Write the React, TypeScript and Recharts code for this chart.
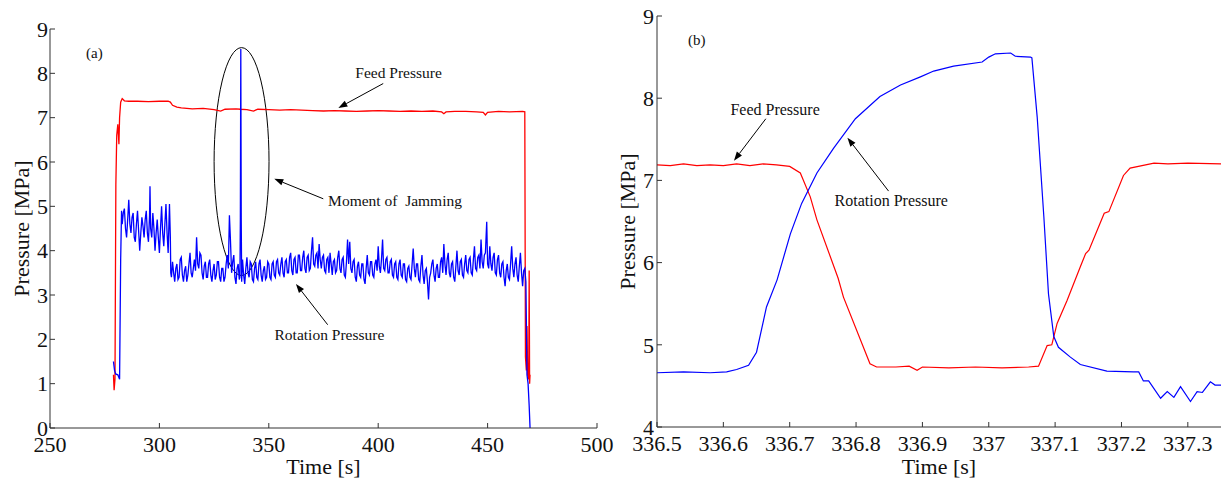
import { LineChart, Line, XAxis, YAxis, ReferenceLine, ReferenceDot, ReferenceArea } from "recharts";

const FONT = '"Liberation Serif", "Times New Roman", serif';
const RED = "#ff0000";
const BLUE = "#0000ff";
const AXIS = "#333333";
const INK = "#111111";

// (a) whole run, [time s, pressure MPa]
const feedA: [number, number][] = [
  [279, 1.2], [279.3, 0.85], [279.7, 1.1], [280.1, 5.5], [280.5, 6.6], [281, 6.85], [281.5, 6.4], [281.8, 7.0],
  [282.3, 7.35], [283, 7.43], [284, 7.38], [286, 7.37], [290, 7.37], [295, 7.36], [300, 7.37], [304, 7.37],
  [305, 7.35], [306, 7.28], [308, 7.24], [310, 7.22], [315, 7.2], [320, 7.21], [325, 7.18], [328, 7.15],
  [330, 7.19], [335, 7.2], [337, 7.19], [340, 7.18], [343, 7.15], [345, 7.19], [350, 7.18], [355, 7.17],
  [360, 7.18], [365, 7.17], [370, 7.16], [375, 7.15], [380, 7.16], [385, 7.15], [390, 7.14], [395, 7.15],
  [400, 7.16], [405, 7.15], [410, 7.14], [415, 7.15], [420, 7.14], [425, 7.15], [429, 7.13], [430, 7.09],
  [431, 7.13], [435, 7.14], [440, 7.14], [445, 7.13], [448, 7.12], [449, 7.06], [450, 7.12], [455, 7.14],
  [460, 7.13], [466, 7.14], [467, 7.13], [467.3, 1.6], [467.7, 1.3], [468, 2.3], [468.3, 1.2], [468.8, 1.1],
  [469, 3.55], [469.2, 1.0], [469.4, 1.2],
];

const rotA: [number, number][] = [
  [279, 1.5], [279.5, 1.3], [280, 1.22], [281, 1.2], [281.8, 1.1], [282.3, 3.8], [282.7, 4.9], [283, 4.6],
  [283.5, 4.85], [284, 4.95], [284.5, 4.5], [285, 4.3], [285.5, 4.7], [286, 5.15], [286.5, 4.6], [287, 4.4],
  [287.5, 4.75], [288, 4.85], [288.5, 4.3], [289, 4.2], [289.5, 4.6], [290, 4.9], [290.5, 4.45], [291, 4.0],
  [291.5, 4.4], [292, 4.75], [292.5, 4.55], [293, 4.3], [293.5, 4.7], [294, 4.9], [294.5, 4.4], [295, 4.2],
  [295.5, 4.8], [295.7, 5.45], [296, 4.5], [296.5, 4.3], [297, 4.85], [297.5, 4.5], [298, 4.0], [298.5, 4.4],
  [299, 4.7], [299.5, 4.3], [300, 3.95], [300.5, 4.5], [301, 5.0], [301.5, 4.4], [302, 4.1], [302.5, 4.6],
  [303, 5.05], [303.5, 4.4], [304, 3.95], [304.3, 4.5], [304.6, 5.05], [305, 4.3], [305.2, 3.5],
  [305.5, 3.4], [306, 3.75], [306.5, 3.5], [307, 3.3], [307.5, 3.6], [308, 3.7], [308.5, 3.35], [309, 3.4],
  [309.5, 3.8], [310, 3.85], [310.5, 3.45], [311, 3.3], [311.5, 3.55], [312, 3.65], [312.5, 3.3], [313, 3.45],
  [313.5, 3.7], [314, 3.95], [314.5, 3.5], [315, 3.4], [315.5, 3.6], [316, 3.8], [316.5, 3.55], [317, 4.3],
  [317.5, 3.7], [318, 3.6], [318.5, 3.95], [319, 3.9], [319.5, 3.5], [320, 3.35], [320.5, 3.65], [321, 3.75],
  [321.5, 3.4], [322, 3.4], [322.5, 3.7], [323, 3.8], [323.5, 3.45], [324, 3.3], [324.5, 3.55], [325, 3.7],
  [325.5, 3.35], [326, 3.45], [326.5, 3.75], [327, 3.75], [327.5, 3.4], [328, 3.3], [328.5, 3.6], [329, 3.6],
  [329.5, 3.3], [330, 3.4], [330.5, 3.7], [331, 3.9], [331.5, 3.6], [332, 4.8], [332.5, 4.2], [333, 3.5],
  [333.5, 3.75], [334, 3.9], [334.5, 3.4], [335, 3.25], [335.5, 3.6], [336, 3.7], [336.5, 3.35], [336.8, 3.4],
  [337, 4.7], [337.2, 8.55], [337.4, 4.7], [337.6, 3.3], [338, 3.8], [338.5, 3.45], [339, 3.25], [339.5, 3.6],
  [340, 3.85], [340.5, 3.5], [341, 3.4], [341.5, 3.75], [342, 3.7], [342.5, 3.35], [343, 3.3], [343.5, 3.6],
  [344, 3.75], [344.5, 3.4], [345, 3.35], [345.5, 3.7], [346, 3.8], [346.5, 3.45], [347, 3.3], [347.5, 3.55],
  [348, 3.65], [348.5, 3.35], [349, 3.4], [349.5, 3.75], [350, 3.7], [350.5, 3.4], [351, 3.35], [351.5, 3.7],
  [352, 3.75], [352.5, 3.45], [353, 3.4], [353.5, 3.75], [354, 3.8], [354.5, 3.5], [355, 3.45], [355.5, 3.7],
  [356, 3.85], [356.5, 3.5], [357, 3.4], [357.5, 3.75], [358, 3.8], [358.5, 3.5], [359, 3.5], [359.5, 3.85],
  [360, 3.95], [360.5, 3.55], [361, 3.45], [361.5, 3.8], [362, 3.85], [362.5, 3.5], [363, 3.5], [363.5, 3.9],
  [364, 3.9], [364.5, 3.55], [365, 3.55], [365.5, 3.85], [366, 4.0], [366.5, 3.6], [367, 3.5], [367.5, 3.85],
  [368, 3.9], [368.5, 3.55], [369, 3.6], [369.5, 4.0], [370, 4.3], [370.5, 3.7], [371, 3.65], [371.5, 3.9],
  [372, 3.95], [372.5, 3.6], [373, 4.15], [373.5, 3.8], [374, 3.6], [374.5, 3.85], [375, 3.9], [375.5, 3.55],
  [376, 3.5], [376.5, 3.8], [377, 3.85], [377.5, 3.5], [378, 3.95], [378.5, 3.7], [379, 3.45], [379.5, 3.75],
  [380, 3.8], [380.5, 3.5], [381, 3.55], [381.5, 3.85], [382, 4.0], [382.5, 3.6], [383, 3.5], [383.5, 3.8],
  [384, 3.85], [384.5, 3.45], [385, 3.4], [385.5, 3.75], [386, 4.25], [386.5, 3.7], [387, 4.2], [387.5, 3.6],
  [388, 3.5], [388.5, 3.75], [389, 3.8], [389.5, 3.4], [390, 3.3], [390.5, 3.65], [391, 3.75], [391.5, 3.45],
  [392, 3.4], [392.5, 3.7], [393, 3.7], [393.5, 3.35], [394, 3.25], [394.5, 3.6], [395, 3.9], [395.5, 3.5],
  [396, 3.45], [396.5, 3.75], [397, 3.75], [397.5, 3.45], [398, 3.4], [398.5, 3.7], [399, 3.8], [399.5, 3.55],
  [400, 4.1], [400.5, 3.65], [401, 3.5], [401.5, 3.8], [402, 4.25], [402.5, 3.6], [403, 3.55], [403.5, 3.8],
  [404, 3.85], [404.5, 3.5], [405, 3.5], [405.5, 3.75], [406, 3.8], [406.5, 3.45], [407, 3.4], [407.5, 3.7],
  [408, 3.75], [408.5, 3.4], [409, 3.35], [409.5, 3.7], [410, 3.8], [410.5, 3.45], [411, 3.4], [411.5, 3.7],
  [412, 3.7], [412.5, 3.35], [413, 3.3], [413.5, 3.6], [414, 3.65], [414.5, 3.4], [415, 3.35], [415.5, 3.7],
  [416, 4.05], [416.5, 3.6], [417, 3.4], [417.5, 3.7], [418, 3.7], [418.5, 3.35], [419, 3.3], [419.5, 3.65],
  [420, 3.9], [420.5, 3.45], [421, 3.25], [421.5, 3.55], [422, 3.6], [422.5, 3.3], [423, 2.9], [423.5, 3.4],
  [424, 3.5], [424.5, 3.7], [425, 3.8], [425.5, 3.45], [426, 3.3], [426.5, 3.6], [427, 3.7], [427.5, 3.4],
  [428, 3.4], [428.5, 3.75], [429, 3.85], [429.5, 3.5], [430, 4.15], [430.5, 3.7], [431, 3.45], [431.5, 3.8],
  [432, 3.95], [432.5, 3.5], [433, 3.4], [433.5, 3.7], [434, 3.75], [434.5, 3.4], [435, 3.3], [435.5, 3.65],
  [436, 4.0], [436.5, 3.55], [437, 3.45], [437.5, 3.75], [438, 3.8], [438.5, 3.45], [439, 3.4], [439.5, 3.7],
  [440, 3.9], [440.5, 3.55], [441, 3.5], [441.5, 3.8], [442, 3.85], [442.5, 3.5], [443, 3.45], [443.5, 3.8],
  [444, 4.1], [444.5, 3.6], [445, 3.55], [445.5, 3.85], [446, 3.9], [446.5, 3.6], [447, 4.25], [447.5, 3.75],
  [448, 3.6], [448.5, 3.9], [449, 3.95], [449.6, 4.65], [450, 3.7], [450.5, 3.6], [451, 4.1], [451.5, 3.7],
  [452, 3.55], [452.5, 3.85], [453, 3.95], [453.5, 3.5], [454, 3.45], [454.5, 3.8], [455, 3.9], [455.5, 3.5],
  [456, 3.4], [456.5, 3.7], [457, 3.75], [457.5, 3.4], [458, 3.2], [458.5, 3.55], [459, 3.7], [459.5, 3.4],
  [460, 3.35], [460.5, 3.7], [461, 4.1], [461.5, 3.6], [462, 3.4], [462.5, 3.7], [463, 3.85], [463.5, 3.45],
  [464, 3.3], [464.5, 3.65], [465, 3.95], [465.5, 3.5], [466, 3.2], [466.5, 3.55], [467, 3.6], [467.5, 3.3],
  [468, 1.2], [468.5, 1.0], [469, 0.5], [469.4, 0.0],
];

// (b) close-up of the jamming moment
const feedB: [number, number][] = [
  [336.5, 7.19], [336.52, 7.18], [336.54, 7.2], [336.56, 7.18], [336.58, 7.19], [336.6, 7.18], [336.62, 7.2],
  [336.64, 7.18], [336.66, 7.2], [336.68, 7.19], [336.7, 7.17], [336.716, 7.09], [336.731, 6.8],
  [336.741, 6.52], [336.773, 5.81], [336.781, 5.58], [336.821, 4.77], [336.831, 4.73], [336.86, 4.73],
  [336.88, 4.74], [336.892, 4.69], [336.9, 4.73], [336.94, 4.72], [336.98, 4.73], [337.02, 4.72],
  [337.06, 4.73], [337.075, 4.74], [337.088, 4.99], [337.095, 5.0], [337.103, 5.26], [337.118, 5.54],
  [337.138, 5.95], [337.146, 6.11], [337.151, 6.15], [337.174, 6.6], [337.181, 6.62], [337.203, 7.06],
  [337.213, 7.15], [337.249, 7.21], [337.27, 7.2], [337.3, 7.21], [337.35, 7.2],
];

const rotB: [number, number][] = [
  [336.5, 4.66], [336.54, 4.67], [336.58, 4.66], [336.605, 4.67], [336.62, 4.7], [336.638, 4.75],
  [336.65, 4.91], [336.665, 5.46], [336.681, 5.79], [336.701, 6.35], [336.718, 6.72], [336.741, 7.09],
  [336.766, 7.39], [336.799, 7.75], [336.836, 8.02], [336.867, 8.16], [336.897, 8.26], [336.917, 8.33],
  [336.947, 8.39], [336.99, 8.44], [337.0, 8.5], [337.01, 8.54], [337.033, 8.55], [337.04, 8.51],
  [337.063, 8.5], [337.065, 8.49], [337.073, 7.77], [337.083, 6.56], [337.09, 5.62], [337.098, 5.1],
  [337.105, 4.97], [337.123, 4.85], [337.138, 4.76], [337.178, 4.68], [337.218, 4.67], [337.226, 4.67],
  [337.233, 4.56], [337.241, 4.56], [337.259, 4.35], [337.269, 4.43], [337.279, 4.36], [337.289, 4.49],
  [337.304, 4.31], [337.314, 4.43], [337.322, 4.42], [337.334, 4.55], [337.341, 4.51], [337.35, 4.51],
];

const ticksXA = [250, 300, 350, 400, 450, 500];
const ticksYA = [0, 1, 2, 3, 4, 5, 6, 7, 8, 9];
const ticksXB = [336.5, 336.6, 336.7, 336.8, 336.9, 337, 337.1, 337.2, 337.3];
const ticksYB = [4, 5, 6, 7, 8, 9];

const rows = (pts: [number, number][]) => pts.map(([t, v]) => ({ t, v }));

function Arrow(p: any) {
  const { x1, y1, x2, y2 } = p;
  const a = Math.atan2(y2 - y1, x2 - x1);
  const L = 9, W = 3.2;
  const bx = x2 - L * Math.cos(a), by = y2 - L * Math.sin(a);
  const pts = `${x2},${y2} ${bx + W * Math.sin(a)},${by - W * Math.cos(a)} ${bx - W * Math.sin(a)},${by + W * Math.cos(a)}`;
  return (
    <g>
      <line x1={x1} y1={y1} x2={bx} y2={by} stroke="#000" strokeWidth={1} />
      <polygon points={pts} fill="#000" />
    </g>
  );
}

const note = (text: string, size: number) => (p: any) => (
  <text x={p.cx} y={p.cy} textAnchor="middle" dominantBaseline="central" fontSize={size} fontFamily={FONT} fill={INK} style={{ whiteSpace: "pre" }}>
    {text}
  </text>
);

const Ellipse = (p: any) => (
  <ellipse cx={p.x + p.width / 2} cy={p.y + p.height / 2} rx={p.width / 2} ry={p.height / 2} fill="none" stroke="#000" strokeWidth={1} />
);

const axisLabel = (text: string, dx: number) => (p: any) => {
  const vb = p.viewBox;
  const cx = vb.x + dx, cy = vb.y + vb.height / 2;
  return (
    <text x={cx} y={cy} transform={`rotate(-90 ${cx} ${cy})`} textAnchor="middle" dominantBaseline="central" fontSize={22} fontFamily={FONT} fill={INK}>
      {text}
    </text>
  );
};

const xLabel = (text: string, dy: number) => (p: any) => {
  const vb = p.viewBox;
  return (
    <text x={vb.x + vb.width / 2} y={vb.y + dy} textAnchor="middle" dominantBaseline="central" fontSize={22} fontFamily={FONT} fill={INK}>
      {text}
    </text>
  );
};

// serif tick labels drawn by hand so the font sticks
const fmtB = (v: number) => String(+v.toFixed(1));
const XTick = (fmt: (v: number) => string) => (p: any) => (
  <text x={p.x} y={p.y} dy="0.71em" textAnchor="middle" fontSize={22} fontFamily={FONT} fill={INK}>
    {fmt(p.payload.value)}
  </text>
);
const YTick = (p: any) => (
  <text x={p.x} y={p.y} dy="0.355em" textAnchor="end" fontSize={22} fontFamily={FONT} fill={INK}>
    {String(p.payload.value)}
  </text>
);

export default function App() {
  return (
    <div style={{ position: "absolute", left: 0, top: 0, width: 1222, height: 483, background: "#fff", fontFamily: FONT }}>
      <div style={{ position: "absolute", left: 0, top: 0 }}>
        <LineChart width={625} height={483} margin={{ top: 29, right: 28, left: 0, bottom: 0 }} style={{ overflow: "visible" }}>
          <XAxis
            type="number" dataKey="t" domain={[250, 500]} ticks={ticksXA} allowDataOverflow
            height={55} tickSize={-5} tickMargin={13} tick={XTick(String)}
            stroke={AXIS} axisLine={{ stroke: AXIS }} tickLine={{ stroke: AXIS }}
            label={{ content: xLabel("Time [s]", 38) }}
          />
          <YAxis
            type="number" domain={[0, 9]} ticks={ticksYA} allowDataOverflow
            width={50} tickSize={-5} tickMargin={7} tick={YTick}
            stroke={AXIS} axisLine={{ stroke: AXIS }} tickLine={{ stroke: AXIS }}
            label={{ content: axisLabel("Pressure [MPa]", 21) }}
          />
          <Line data={rows(feedA)} dataKey="v" stroke={RED} strokeWidth={1.3} dot={false} isAnimationActive={false} />
          <Line data={rows(rotA)} dataKey="v" stroke={BLUE} strokeWidth={1.3} dot={false} isAnimationActive={false} />
          <ReferenceArea x1={325} x2={350.1} y1={3.44} y2={8.58} shape={Ellipse} />
          <ReferenceLine segment={[{ x: 402.3, y: 7.77 }, { x: 381.8, y: 7.22 }]} shape={Arrow} />
          <ReferenceLine segment={[{ x: 374.9, y: 5.17 }, { x: 352.5, y: 5.62 }]} shape={Arrow} />
          <ReferenceLine segment={[{ x: 376.9, y: 2.33 }, { x: 362.4, y: 3.25 }]} shape={Arrow} />
          <ReferenceDot x={270.3} y={8.46} shape={note("(a)", 15)} />
          <ReferenceDot x={409.3} y={8.02} shape={note("Feed Pressure", 15.5)} />
          <ReferenceDot x={407.7} y={5.13} shape={note("Moment of  Jamming", 15.5)} />
          <ReferenceDot x={377.7} y={2.1} shape={note("Rotation Pressure", 15.5)} />
        </LineChart>
      </div>
      <div style={{ position: "absolute", left: 600, top: 0 }}>
        <LineChart width={622} height={483} margin={{ top: 16, right: 1, left: 0, bottom: 0 }}>
          <XAxis
            type="number" dataKey="t" domain={[336.5, 337.35]} ticks={ticksXB} allowDataOverflow
            height={56} tickSize={-5} tickMargin={13} tick={XTick(fmtB)}
            stroke={AXIS} axisLine={{ stroke: AXIS }} tickLine={{ stroke: AXIS }}
            label={{ content: xLabel("Time [s]", 39) }}
          />
          <YAxis
            type="number" domain={[4, 9]} ticks={ticksYB} allowDataOverflow
            width={57} tickSize={-5} tickMargin={8} tick={YTick}
            stroke={AXIS} axisLine={{ stroke: AXIS }} tickLine={{ stroke: AXIS }}
            label={{ content: axisLabel("Pressure [MPa]", 27) }}
          />
          <Line data={rows(feedB)} dataKey="v" stroke={RED} strokeWidth={1.2} dot={false} isAnimationActive={false} />
          <Line data={rows(rotB)} dataKey="v" stroke={BLUE} strokeWidth={1.2} dot={false} isAnimationActive={false} />
          <ReferenceLine segment={[{ x: 336.664, y: 7.75 }, { x: 336.616, y: 7.24 }]} shape={Arrow} />
          <ReferenceLine segment={[{ x: 336.849, y: 6.87 }, { x: 336.787, y: 7.52 }]} shape={Arrow} />
          <ReferenceDot x={336.56} y={8.71} shape={note("(b)", 15)} />
          <ReferenceDot x={336.678} y={7.86} shape={note("Feed Pressure", 16)} />
          <ReferenceDot x={336.853} y={6.76} shape={note("Rotation Pressure", 16)} />
        </LineChart>
      </div>
    </div>
  );
}
